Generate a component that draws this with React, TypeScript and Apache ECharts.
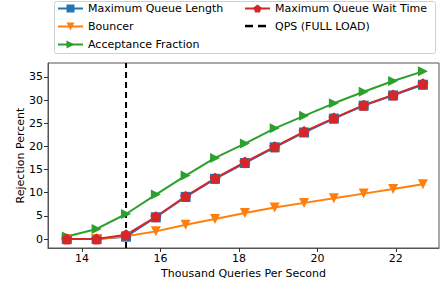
import React, { useEffect, useRef } from "react";
import * as echarts from "echarts";

const qps = [13.61, 14.37, 15.12, 15.88, 16.64, 17.39, 18.15, 18.91, 19.66, 20.42, 21.18, 21.93, 22.69];
const maxQueueLength = [0, 0, 0.5, 4.7, 9.1, 13.0, 16.4, 19.8, 23.0, 26.0, 28.8, 31.0, 33.3];
const bouncer = [0, 0, 0.6, 1.65, 3.1, 4.3, 5.6, 6.8, 7.8, 8.8, 9.8, 10.8, 11.8];
const acceptanceFraction = [0.56, 2.17, 5.4, 9.6, 13.7, 17.5, 20.6, 23.9, 26.6, 29.3, 31.8, 34.1, 36.2];
const maxQueueWaitTime = [0, 0, 0.9, 4.8, 9.2, 13.1, 16.6, 19.9, 23.2, 26.1, 28.9, 31.1, 33.5];
const fullLoadQps = 15.12;
const xTicks = [14, 16, 18, 20, 22];
const yTicks = [0, 5, 10, 15, 20, 25, 30, 35];

const FONT = "DejaVu Sans";
const pentagon = "path://M0,-1 L0.951,-0.309 L0.588,0.809 L-0.588,0.809 L-0.951,-0.309 Z";

export default function App() {
  const ref = useRef<HTMLDivElement>(null);
  useEffect(() => {
    const chart = echarts.init(ref.current!, undefined, { renderer: "svg" });
    const zip = (ys: number[]) => qps.map((x, i) => [x, ys[i]]);
    const lineSeries = (name: string, ys: number[], color: string, symbol: string, size: number, rotate = 0) => ({
      name,
      type: "line",
      data: zip(ys),
      symbol,
      symbolSize: size,
      symbolRotate: rotate,
      showAllSymbol: true,
      lineStyle: { color, width: 2 },
      itemStyle: { color, opacity: 1 },
      z: 3,
    });
    const legendText = { fontFamily: FONT, fontSize: 11, color: "#000" };
    const legendCommon = {
      orient: "vertical",
      top: 3,
      padding: 0,
      itemWidth: 25,
      itemHeight: 10,
      itemGap: 7,
      textStyle: legendText,
      z: 5,
    };
    chart.setOption({
      animation: false,
      grid: { left: 48, right: 1, top: 63, bottom: 39, show: true, borderColor: "#555", borderWidth: 1 },
      graphic: [
        {
          type: "rect",
          shape: { x: 54.5, y: 1.5, width: 381, height: 52, r: 2 },
          style: { fill: "#fff", stroke: "#d0d0d0", lineWidth: 1 },
          z: 0,
        },
        {
          type: "rect",
          shape: { x: 245, y: 24.8, width: 8, height: 2.5 },
          style: { fill: "#000" },
          z: 6,
        },
        {
          type: "rect",
          shape: { x: 258, y: 24.8, width: 8, height: 2.5 },
          style: { fill: "#000" },
          z: 6,
        },
      ],
      legend: [
        {
          ...legendCommon,
          data: ["Maximum Queue Length", "Bouncer", "Acceptance Fraction"],
          left: 57,
        },
        {
          ...legendCommon,
          data: [
            "Maximum Queue Wait Time",
            { name: "QPS (FULL LOAD)", icon: "rect", itemStyle: { opacity: 0 } },
          ],
          left: 244,
        },
      ],
      xAxis: {
        type: "value",
        min: 13.13,
        max: 23.1,
        name: "Thousand Queries Per Second",
        nameLocation: "middle",
        nameGap: 20,
        nameMoveOverlap: false,
        nameTextStyle: { fontFamily: FONT, fontSize: 11, color: "#000" },
        splitLine: { show: false },
        axisLine: { show: true, onZero: false, lineStyle: { color: "#555", width: 1 } },
        axisTick: { show: true, customValues: xTicks, length: 4, lineStyle: { color: "#333" } },
        axisLabel: { customValues: xTicks, fontFamily: FONT, fontSize: 11, color: "#000", margin: 5 },
      },
      yAxis: {
        type: "value",
        min: -1.94,
        max: 38,
        name: "Rejection Percent",
        nameLocation: "middle",
        nameGap: 22,
        nameMoveOverlap: false,
        nameRotate: 90,
        nameTextStyle: { fontFamily: FONT, fontSize: 11, color: "#000" },
        splitLine: { show: false },
        axisLine: { show: true, onZero: false, lineStyle: { color: "#555", width: 1 } },
        axisTick: { show: true, customValues: yTicks, length: 4, lineStyle: { color: "#333" } },
        axisLabel: { customValues: yTicks, fontFamily: FONT, fontSize: 11, color: "#000", margin: 5 },
      },
      series: [
        lineSeries("Maximum Queue Length", maxQueueLength, "#1f77b4", "rect", 10),
        lineSeries("Bouncer", bouncer, "#ff7f0e", "triangle", 10, 180),
        lineSeries("Acceptance Fraction", acceptanceFraction, "#2ca02c", "triangle", 10, -90),
        lineSeries("Maximum Queue Wait Time", maxQueueWaitTime, "#d62728", pentagon, 11),
        {
          name: "QPS (FULL LOAD)",
          type: "line",
          data: [
            [fullLoadQps, -1.94],
            [fullLoadQps, 38],
          ],
          symbol: "none",
          lineStyle: { color: "#000", width: 2, type: [6, 4] },
          itemStyle: { color: "#000" },
          z: 2,
        },
      ],
    });
    return () => chart.dispose();
  }, []);
  return <div ref={ref} style={{ width: 440, height: 287, position: "absolute", left: 0, top: 0, background: "#fff" }} />;
}
